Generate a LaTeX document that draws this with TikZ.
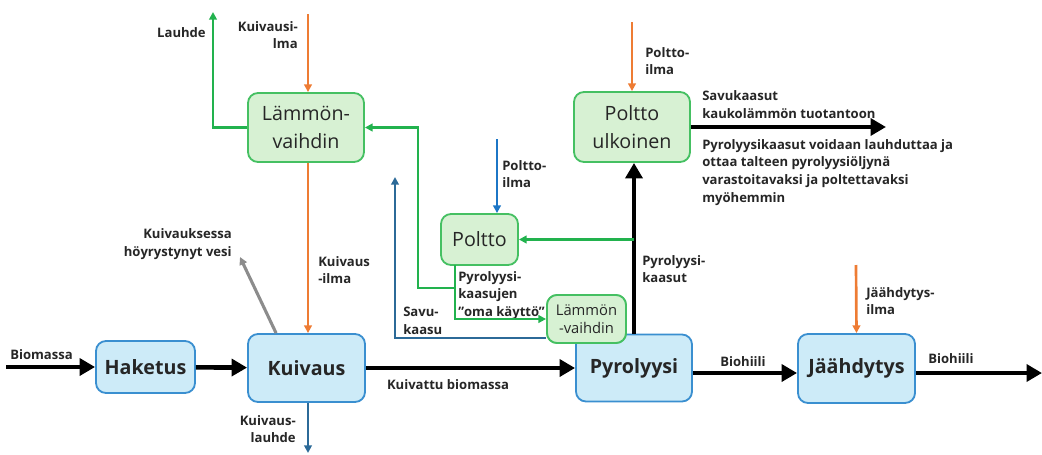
\documentclass[tikz,border=0pt]{standalone}
\usepackage{fontspec}
\setmainfont{Open Sans}
\usepackage{xcolor}
\usepackage{tikz}
\usetikzlibrary{arrows.meta,positioning,calc}

\definecolor{bluefill}{HTML}{CDEBF8}
\definecolor{blueline}{HTML}{3A8FD0}
\definecolor{greenfill}{HTML}{D7F1D3}
\definecolor{greenline}{HTML}{45C062}
\definecolor{flowgreen}{HTML}{22B24E}
\definecolor{airorange}{HTML}{EE7C34}
\definecolor{airblue}{HTML}{1C76C6}
\definecolor{smokeblue}{HTML}{2C6A98}
\definecolor{steamgray}{HTML}{8C8C8C}
\definecolor{labeltext}{HTML}{262626}

\tikzset{
    mainbox/.style={draw=blueline, fill=bluefill, line width=1.3pt, rounded corners=0.25cm,
        text=labeltext, font=\fontsize{14}{16}\selectfont\bfseries, align=center},
    hxbox/.style={draw=greenline, fill=greenfill, line width=1.3pt, rounded corners=0.25cm,
        text=labeltext, font=\fontsize{14}{20}\selectfont, align=center},
    mass/.style={line width=3.3pt, -{Triangle[length=11pt,width=12pt]}},
    thinflow/.style={line width=1.9pt, -{Triangle[length=5.5pt,width=5.5pt]}},
    lbl/.style={text=labeltext, font=\fontsize{9.3}{12.6}\selectfont\bfseries, inner sep=0pt, align=left},
}

\begin{document}
\begin{tikzpicture}[x=0.025cm, y=-0.025cm]
    \useasboundingbox (0,0) rectangle (1042,455);

    % Main process boxes
    \node[mainbox, minimum width=2.475cm, minimum height=1.3cm] (haketus) at (145.5,367) {Haketus};
    \node[mainbox, minimum width=2.925cm, minimum height=1.7cm] (kuivaus) at (306.5,368) {Kuivaus};
    \node[mainbox, minimum width=2.9cm, minimum height=1.675cm] (pyrolyysi) at (634,368) {Pyrolyysi};
    \node[mainbox, minimum width=2.925cm, minimum height=1.725cm] (jaahdytys) at (856.5,368.5) {Jäähdytys};

    % Heat exchangers and burners
    \node[hxbox, minimum width=2.9cm, minimum height=1.725cm] (lvaihdin) at (306,127.5) {Lämmön-\\vaihdin};
    \node[hxbox, minimum width=2.9cm, minimum height=1.75cm] (ulkoinen) at (632,127) {Poltto\\ulkoinen};
    \node[hxbox, minimum width=1.925cm, minimum height=1.275cm] (poltto) at (479.5,239.5) {Poltto};

    % Biomass line
    \coordinate (bioin) at (6,367);
    \coordinate (hiili) at (700,373);
    \coordinate (bioout) at (1042,373);
    \draw[mass] (bioin) -- (haketus);
    \draw[mass] (haketus) -- (kuivaus);
    \draw[mass] (kuivaus) -- (pyrolyysi);
    \draw[mass] (pyrolyysi.east |- hiili) -- (jaahdytys.west |- hiili);
    \draw[mass] (jaahdytys.east |- bioout) -- (bioout);
    \node[lbl, anchor=base west] (lbio) at (10,359) {Biomassa};
    \node[lbl, anchor=base] (lkuivattu) at (448,389) {Kuivattu biomassa};
    \node[lbl, anchor=base] (lhiili1) at (743,366) {Biohiili};
    \node[lbl, anchor=base] (lhiili2) at (951,363) {Biohiili};

    % Pyrolysis gases
    \coordinate (savuout) at (886,127);
    \draw[mass] (pyrolyysi.north) -- (pyrolyysi.north |- ulkoinen.south);
    \draw[mass] (ulkoinen) -- (savuout);
    \node[lbl, anchor=north west] (lkaasut) at (642,255) {Pyrolyysi-\\kaasut};
    \node[lbl, anchor=south west] (lsavu) at (702,119) {Savukaasut\\kaukolämmön tuotantoon};
    \node[lbl, anchor=north west] (lhuom) at (702,139) {Pyrolyysikaasut voidaan lauhduttaa ja\\ottaa talteen pyrolyysiöljynä\\varastoitavaksi ja poltettavaksi\\myöhemmin};

    % Air inlets
    \coordinate (ilma1) at (632,22);
    \coordinate (ilma2) at (308,14);
    \coordinate (ilma3) at (497,139);
    \coordinate (ilma4) at (856,265);
    \draw[thinflow, airorange] (ilma1) -- (ilma1 |- ulkoinen.north);
    \draw[thinflow, airorange] (ilma2) -- (ilma2 |- lvaihdin.north);
    \draw[thinflow, airorange] (ilma2 |- lvaihdin.south) -- (ilma2 |- kuivaus.north);
    \draw[thinflow, airblue] (ilma3) -- (ilma3 |- poltto.north);
    \draw[thinflow, airorange] (ilma4) -- (jaahdytys.north);
    \node[lbl, anchor=north west] (lilma1) at (645,47) {Poltto-\\ilma};
    \node[lbl, anchor=north east, align=right] (lilma2) at (298,21) {Kuivausi-\\lma};
    \node[lbl, anchor=north west] (lilma3) at (502,160) {Poltto-\\ilma};
    \node[lbl, anchor=north west] (lilma4) at (866,287) {Jäähdytys-\\ilma};
    \node[lbl, anchor=north west] (lkuivilma) at (318,256) {Kuivaus\\-ilma};

    % Green heat loops
    \coordinate (lauhde) at (213,12);
    \coordinate (pk) at (455,265);
    \coordinate (jn) at (455,288);
    \coordinate (gcorner) at (418,288);
    \draw[thinflow, flowgreen] (lvaihdin.west) -| (lauhde);
    \draw[thinflow, flowgreen] (pyrolyysi.north |- poltto.east) -- (poltto.east);
    \draw[thinflow, flowgreen] (jn) -- (gcorner) |- (lvaihdin.east);
    \node[lbl, anchor=east] (llauhde) at (206,33) {Lauhde};
    \node[lbl, anchor=north west] (lomakaytto) at (458,271) {Pyrolyysi-\\kaasujen\\"oma käyttö"};

    % Flue gas and condensate
    \coordinate (skout) at (395,177);
    \coordinate (kondout) at (308,453);
    \coordinate (vesi) at (240,257);
    \draw[thinflow, smokeblue] (kuivaus.south -| kondout) -- (kondout);
    \draw[thinflow, steamgray, line width=2.2pt] ([xshift=0.725cm]kuivaus.north west) -- (vesi);
    \node[lbl, anchor=north east, align=right] (lkond) at (296,415) {Kuivaus-\\lauhde};
    \node[lbl, anchor=south east, align=right] (lvesi) at (232,260) {Kuivauksessa\\höyrystynyt vesi};
    \node[lbl, anchor=north west] (lsavukaasu) at (403,307) {Savu-\\kaasu};

    % Small heat exchanger on top of pyrolysis box
    \node[hxbox, minimum width=1.975cm, minimum height=1.2cm, font=\fontsize{10.5}{13}\selectfont] (lv2) at (586.5,319) {Lämmön\\-vaihdin};
    \draw[thinflow, flowgreen] (pk) |- (lv2.west);
    \draw[thinflow, smokeblue] ([yshift=0.15cm]lv2.south west) -| (skout);
    \node[hxbox, minimum width=1.975cm, minimum height=1.2cm, font=\fontsize{10.5}{13}\selectfont] at (lv2) {Lämmön\\-vaihdin};
\end{tikzpicture}
\end{document}
